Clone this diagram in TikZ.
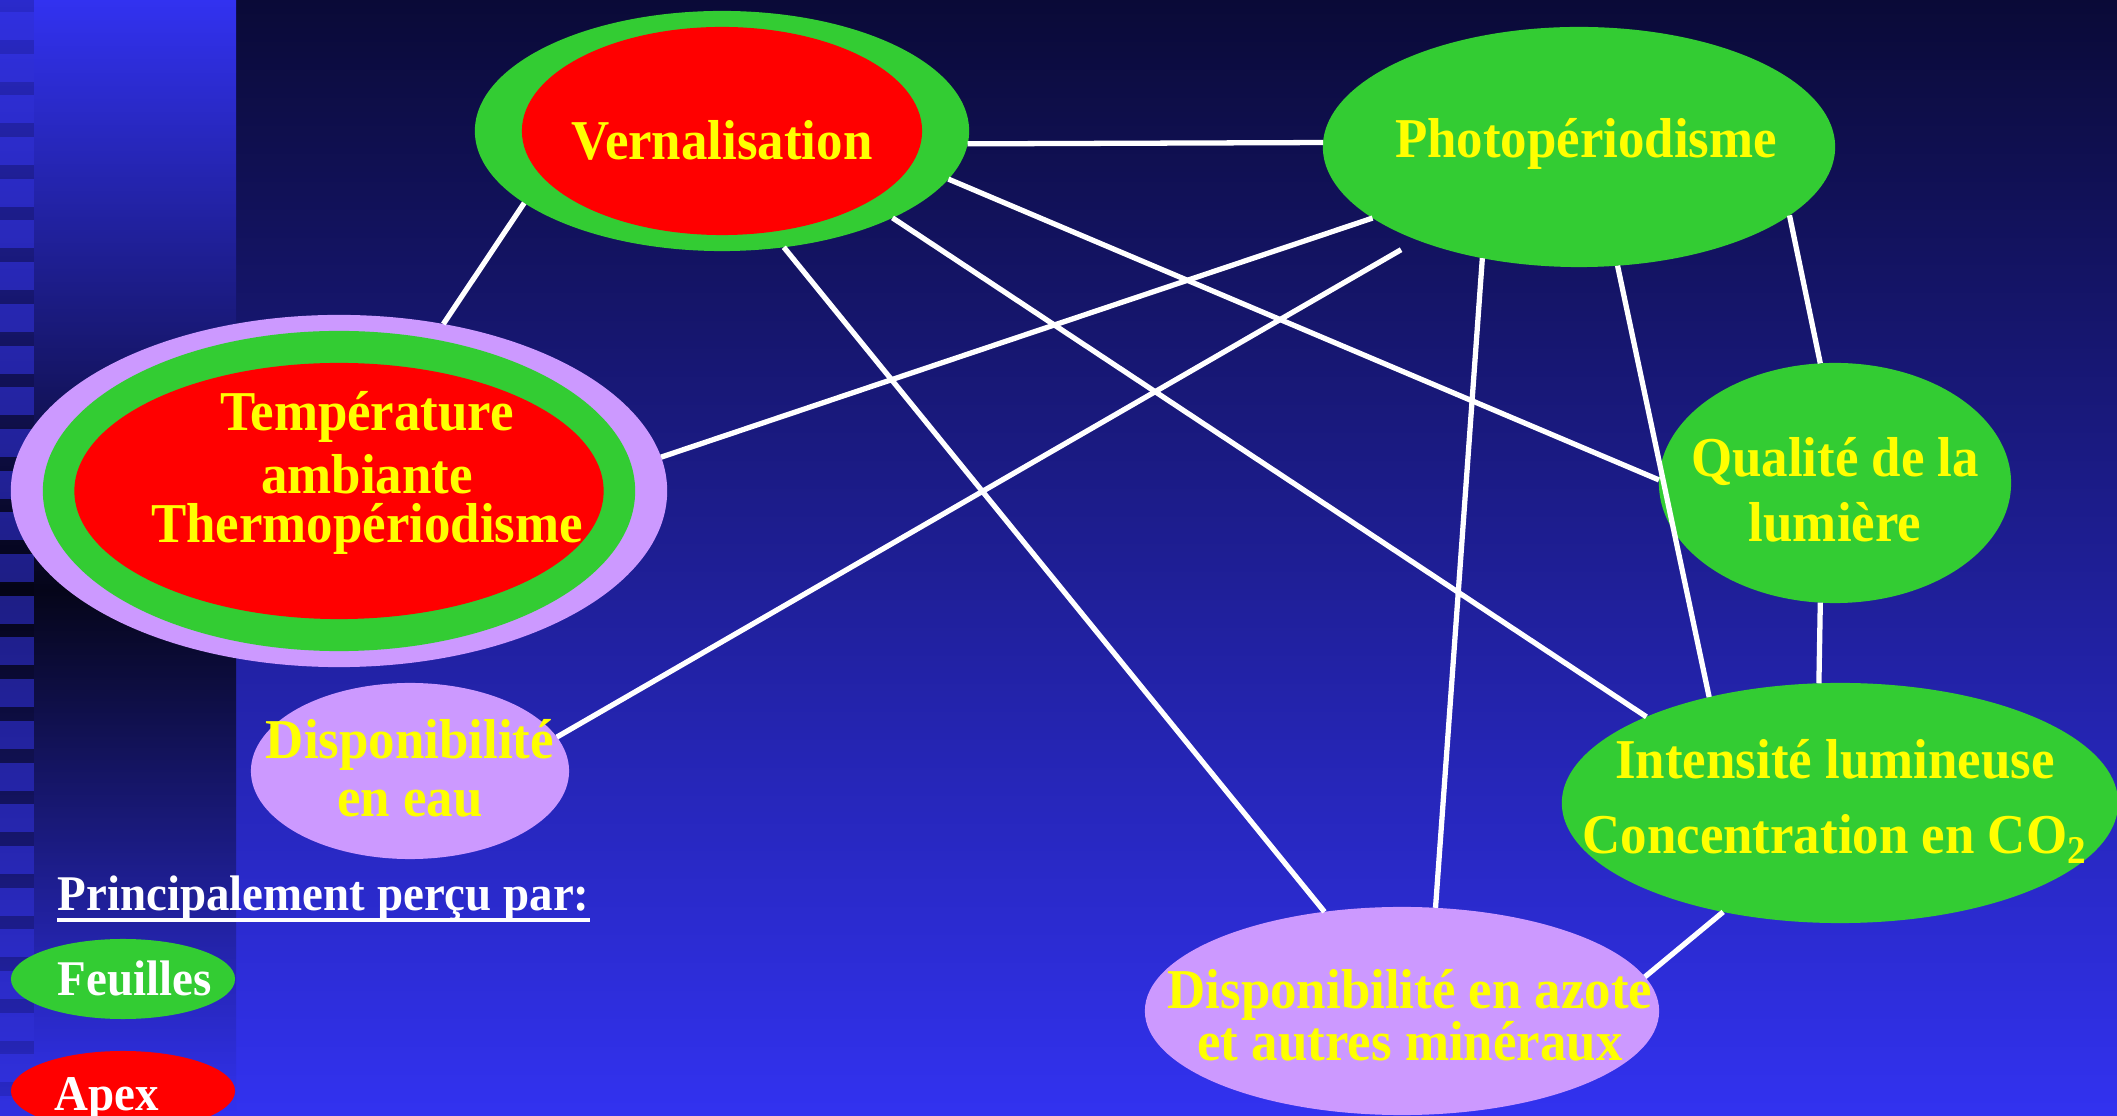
\documentclass[tikz,border=0pt]{standalone}
\usepackage{fontspec}
\setmainfont{Liberation Serif}[FakeStretch=0.94]
\usetikzlibrary{shapes.geometric}

\definecolor{fondhaut}{RGB}{10,10,55}
\definecolor{fondbas}{RGB}{50,50,240}
\definecolor{fondnoir}{RGB}{5,5,25}
\definecolor{tuile}{RGB}{55,55,245}
\definecolor{vert}{RGB}{51,204,51}
\definecolor{rouge}{RGB}{255,0,0}
\definecolor{lilas}{RGB}{204,153,255}
\definecolor{jaune}{RGB}{255,255,0}

\begin{document}
\begin{tikzpicture}[x=0.01cm, y=-0.01cm,
    bulle/.style={ellipse, inner sep=0pt, outer sep=0pt},
    lien/.style={white, line width=1.5pt},
    etiq/.style={text=jaune, align=center, inner sep=0pt, anchor=base,
                 font={\bfseries\fontsize{16}{#1}\selectfont\lineskiplimit=-20pt}},
    etiq/.default=18pt,
    legende/.style={text=white, inner sep=0pt, anchor=base west,
                    font={\bfseries\fontsize{14.2}{17}\selectfont}}]
  \useasboundingbox (0,0) rectangle (2117,1116);
  \clip (0,0) rectangle (2117,1116);
  % fond
  \shade[top color=fondhaut, bottom color=fondbas] (236,0) rectangle (2117,1116);
  \shade[top color=fondbas, bottom color=fondnoir] (0,0) rectangle (236,590);
  \shade[top color=fondnoir, bottom color=fondbas] (0,590) rectangle (236,1116);
  \fill[black, opacity=0.15] (0,0) rectangle (34,1116);
  \foreach \k in {0,...,26}
    \fill[tuile, opacity=0.5] (0,{12+41.7*\k}) rectangle (34,{40+41.7*\k});

  % bulles
  \node[bulle, fill=vert, minimum width=4.94cm, minimum height=2.4cm] (vern) at (722,131) {};
  \node[bulle, fill=rouge, minimum width=4cm, minimum height=2.08cm] (vern-in) at (vern) {};
  \node[bulle, fill=vert, minimum width=5.12cm, minimum height=2.4cm] (photo) at (1579,147) {};
  \node[bulle, fill=lilas, minimum width=6.56cm, minimum height=3.52cm] (temp) at (339,491) {};
  \node[bulle, fill=vert, minimum width=5.92cm, minimum height=3.2cm] (temp-v) at (temp) {};
  \node[bulle, fill=rouge, minimum width=5.29cm, minimum height=2.56cm] (temp-r) at (temp) {};
  \node[bulle, fill=lilas, minimum width=3.18cm, minimum height=1.76cm] (eau) at (410,771) {};
  \node[bulle, fill=vert, minimum width=3.52cm, minimum height=2.4cm] (qual) at (1835,483) {};
  \node[bulle, fill=vert, minimum width=5.56cm, minimum height=2.4cm] (inten) at (1840,803) {};
  \node[bulle, fill=lilas, minimum width=5.14cm, minimum height=2.08cm] (azote) at (1402,1011) {};

  % liens
  \draw[lien] (vern.-3) -- (photo.179);
  \draw[lien] (vern.200) -- (temp.58.7);
  \draw[lien] (vern.-12.5) -- (qual.179);
  \draw[lien] (vern.-27.5) -- (inten.156.3);
  \draw[lien] (vern.-62.6) -- (azote.128.9);
  \draw[lien] (photo.199) -- (temp.6.6);
  \draw[lien, shorten <=0.19cm] (photo.210.6) -- (eau.13.2);
  \draw[lien] (photo.-131.4) -- (azote.72.9);
  \draw[lien] (photo.-72.25) -- (inten.141.6);
  \draw[lien] (photo.-18.6) -- (qual.97);
  \draw[lien] (qual.-97.6) -- (inten.100);
  \draw[lien] (inten.-137.4) -- (azote.8.5);

  % textes (base = derniere ligne)
  \node[etiq] (vern-txt) at (722,160) {Vernalisation};
  \node[etiq] (photo-txt) at (1586,158) {Photopériodisme};
  \node[etiq=14.2pt] (temp-txt) at (367,543) {Température\\[3.7pt]ambiante\\Thermopériodisme};
  \node[etiq=16.5pt] (eau-txt) at (410,817) {Disponibilité\\en eau};
  \node[etiq=18.5pt] (qual-txt) at (1835,542) {Qualité de la\\lumière};
  \node[etiq=21.6pt] (inten-txt) at (1835,854) {Intensité lumineuse\\Concentration en CO\textsubscript{2}};
  \node[etiq=14.8pt] (azote-txt) at (1410,1061) {Disponibilité en azote\\et autres minéraux};

  % légende
  \node[legende] (lgd) at (57,911) {Principalement perçu par:};
  \draw[white, line width=0.9pt] ([yshift=-0.09cm]lgd.base west) -- ([yshift=-0.09cm]lgd.base east);
  \node[bulle, fill=vert, minimum width=2.24cm, minimum height=0.8cm] (feuilles) at (123,979) {};
  \node[legende] (feuilles-txt) at (57,996) {Feuilles};
  \node[bulle, fill=rouge, minimum width=2.24cm, minimum height=0.8cm] (apex) at (123,1091) {};
  \node[legende] (apex-txt) at (54,1111) {Apex};
\end{tikzpicture}
\end{document}
